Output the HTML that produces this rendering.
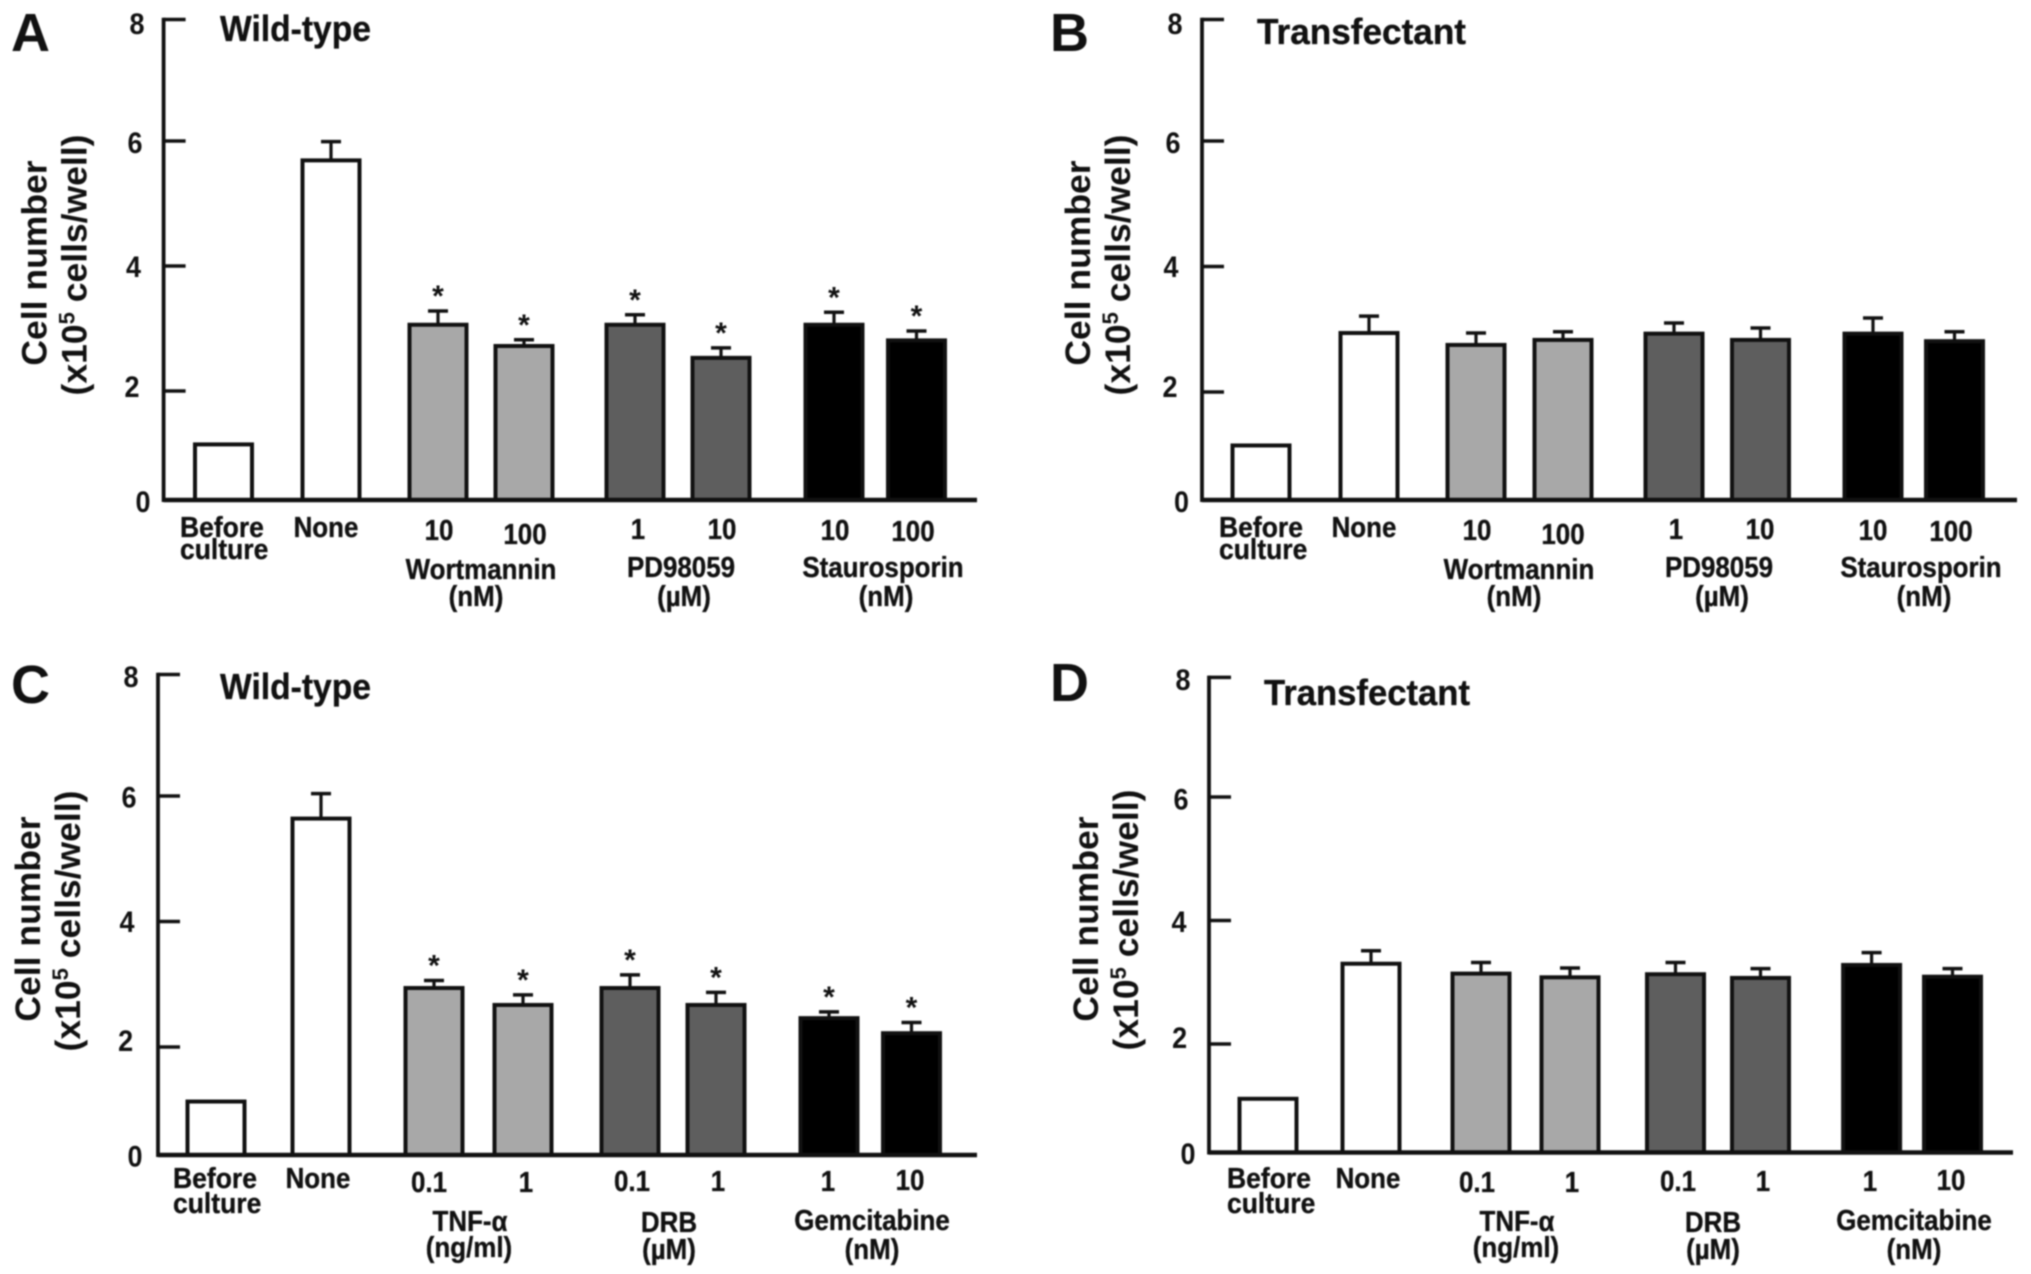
<!DOCTYPE html>
<html lang="en">
<head>
<meta charset="utf-8">
<title>Cell number by treatment: wild-type and transfectant</title>
<style>
  html, body { margin: 0; padding: 0; background: #fff; }
  svg { display: block; filter: blur(0.7px); }
  text { font-family: "Liberation Sans", Arial, sans-serif; font-weight: bold; fill: #111; }
  .lb { font-size: 28.5px; text-anchor: middle; transform: scaleX(.91); transform-box: fill-box; transform-origin: center; stroke: #111; stroke-width: .35px; }
  .ls { font-size: 28.5px; text-anchor: start; transform: scaleX(.93); transform-box: fill-box; transform-origin: left; stroke: #111; stroke-width: .35px; }
  .ttl { font-size: 36px; stroke: #111; stroke-width: .35px; }
  .let { font-size: 54px; }
  .yt { font-size: 35.5px; text-anchor: middle; }
</style>
</head>
<body>
<svg id="fig" xmlns="http://www.w3.org/2000/svg" width="2031" height="1274" viewBox="0 0 2031 1274">
  <rect width="2031" height="1274" fill="#fff"/>

  <g>
    <text class="let" x="11" y="51">A</text>
    <text class="ttl" x="220" y="41" textLength="151" lengthAdjust="spacingAndGlyphs">Wild-type</text>
    <g transform="translate(-1 -1)">
      <text class="yt" transform="translate(47.5 264) rotate(-90)">Cell number</text>
      <text class="yt" transform="translate(87.5 266) rotate(-90)">(x10<tspan font-size="22" dy="-12">5</tspan><tspan dy="12"> cells/well)</tspan></text>
      <text class="ls" x="181" y="538">Before</text>
      <text class="ls" x="181" y="560">culture</text>
      <text class="lb" x="327" y="538">None</text>
      <text class="lb" x="440" y="541">10</text>
      <text class="lb" x="526" y="545">100</text>
      <text class="lb" x="639" y="540">1</text>
      <text class="lb" x="723" y="540">10</text>
      <text class="lb" x="836" y="541">10</text>
      <text class="lb" x="914" y="542">100</text>
      <text class="lb" x="482" y="580">Wortmannin</text>
      <text class="lb" x="477" y="607">(nM)</text>
      <text class="lb" x="682" y="578">PD98059</text>
      <text class="lb" x="685" y="607">(µM)</text>
      <text class="lb" x="884" y="578">Staurosporin</text>
      <text class="lb" x="887" y="607">(nM)</text>
    </g>
  </g>

  <g>
    <text class="let" x="1050" y="51">B</text>
    <text class="ttl" x="1257" y="44" textLength="209" lengthAdjust="spacingAndGlyphs">Transfectant</text>
    <g transform="translate(-1 -1)">
      <text class="yt" transform="translate(1091 264) rotate(-90)">Cell number</text>
      <text class="yt" transform="translate(1131 266) rotate(-90)">(x10<tspan font-size="22" dy="-12">5</tspan><tspan dy="12"> cells/well)</tspan></text>
      <text class="ls" x="1220" y="538">Before</text>
      <text class="ls" x="1220" y="560">culture</text>
      <text class="lb" x="1365" y="538">None</text>
      <text class="lb" x="1478" y="541">10</text>
      <text class="lb" x="1564" y="545">100</text>
      <text class="lb" x="1677" y="540">1</text>
      <text class="lb" x="1761" y="540">10</text>
      <text class="lb" x="1874" y="541">10</text>
      <text class="lb" x="1952" y="542">100</text>
      <text class="lb" x="1520" y="580">Wortmannin</text>
      <text class="lb" x="1515" y="607">(nM)</text>
      <text class="lb" x="1720" y="578">PD98059</text>
      <text class="lb" x="1723" y="607">(µM)</text>
      <text class="lb" x="1922" y="578">Staurosporin</text>
      <text class="lb" x="1925" y="607">(nM)</text>
    </g>
  </g>

  <g>
    <text class="let" x="11" y="703">C</text>
    <text class="ttl" x="220" y="699" textLength="151" lengthAdjust="spacingAndGlyphs">Wild-type</text>
    <g transform="translate(-1 -1)">
      <text class="yt" transform="translate(41 920) rotate(-90)">Cell number</text>
      <text class="yt" transform="translate(81 922) rotate(-90)">(x10<tspan font-size="22" dy="-12">5</tspan><tspan dy="12"> cells/well)</tspan></text>
      <text class="ls" x="174" y="1189">Before</text>
      <text class="ls" x="174" y="1214">culture</text>
      <text class="lb" x="319" y="1189">None</text>
      <text class="lb" x="430" y="1193">0.1</text>
      <text class="lb" x="527" y="1193">1</text>
      <text class="lb" x="633" y="1192">0.1</text>
      <text class="lb" x="719" y="1192">1</text>
      <text class="lb" x="829" y="1192">1</text>
      <text class="lb" x="911" y="1191">10</text>
      <text class="lb" x="471" y="1232">TNF-α</text>
      <text class="lb" x="470" y="1258">(ng/ml)</text>
      <text class="lb" x="670" y="1233">DRB</text>
      <text class="lb" x="670" y="1260">(µM)</text>
      <text class="lb" x="873" y="1231">Gemcitabine</text>
      <text class="lb" x="873" y="1260">(nM)</text>
    </g>
  </g>

  <g>
    <text class="let" x="1050" y="701">D</text>
    <text class="ttl" x="1264" y="705" textLength="206" lengthAdjust="spacingAndGlyphs">Transfectant</text>
    <g transform="translate(-1 -1)">
      <text class="yt" transform="translate(1099 920) rotate(-90)">Cell number</text>
      <text class="yt" transform="translate(1139 921) rotate(-90)">(x10<tspan font-size="22" dy="-12">5</tspan><tspan dy="12"> cells/well)</tspan></text>
      <text class="ls" x="1228" y="1189">Before</text>
      <text class="ls" x="1228" y="1214">culture</text>
      <text class="lb" x="1369" y="1189">None</text>
      <text class="lb" x="1478" y="1193">0.1</text>
      <text class="lb" x="1573" y="1193">1</text>
      <text class="lb" x="1679" y="1192">0.1</text>
      <text class="lb" x="1764" y="1192">1</text>
      <text class="lb" x="1871" y="1192">1</text>
      <text class="lb" x="1952" y="1191">10</text>
      <text class="lb" x="1518" y="1232">TNF-α</text>
      <text class="lb" x="1517" y="1258">(ng/ml)</text>
      <text class="lb" x="1714" y="1233">DRB</text>
      <text class="lb" x="1714" y="1260">(µM)</text>
      <text class="lb" x="1915" y="1231">Gemcitabine</text>
      <text class="lb" x="1915" y="1260">(nM)</text>
    </g>
  </g>
</svg>

<script>
// ---- chart data ----
const tickValues = [0, 2, 4, 6, 8];
const tickLabels = ['0', '2', '4', '6', '8'];

const categoriesTop = ['before-culture', 'none', 'wortmannin-10', 'wortmannin-100', 'pd98059-1', 'pd98059-10', 'staurosporin-10', 'staurosporin-100'];
const categoriesBottom = ['before-culture', 'none', 'tnf-0-1', 'tnf-1', 'drb-0-1', 'drb-1', 'gemcitabine-1', 'gemcitabine-10'];

const panelAValues = [1.02, 5.69, 3.06, 2.72, 3.06, 2.53, 3.06, 2.81];
const panelAErrors = [0, 0.30, 0.22, 0.10, 0.16, 0.16, 0.20, 0.15];
const panelASignificant = [0, 0, 1, 1, 1, 1, 1, 1];

const panelBValues = [1.01, 2.94, 2.75, 2.83, 2.93, 2.83, 2.93, 2.81];
const panelBErrors = [0, 0.27, 0.19, 0.13, 0.17, 0.19, 0.25, 0.15];
const panelBSignificant = [0, 0, 0, 0, 0, 0, 0, 0];

const panelCValues = [0.99, 5.64, 2.94, 2.67, 2.94, 2.67, 2.46, 2.22];
const panelCErrors = [0, 0.40, 0.12, 0.16, 0.21, 0.20, 0.10, 0.17];
const panelCSignificant = [0, 0, 1, 1, 1, 1, 1, 1];

const panelDValues = [0.99, 3.30, 3.14, 3.08, 3.13, 3.07, 3.28, 3.09];
const panelDErrors = [0, 0.21, 0.18, 0.15, 0.19, 0.15, 0.20, 0.13];
const panelDSignificant = [0, 0, 0, 0, 0, 0, 0, 0];

const barFills = ['#ffffff', '#ffffff', '#a8a8a8', '#a8a8a8', '#5e5e5e', '#5e5e5e', '#000000', '#000000'];

// ---- panel geometry (layout only, never data) ----
const layoutA = { id: 'a', axisX: 163.6, axisEnd: 977, y8: 19.5, y6: 141, y2: 391, y0: 500, first: 193,
  slots: [0, 107.5, 214.5, 300.5, 411.5, 497.5, 610.5, 693],
  tickTextX: [143, 132, 133.5, 135, 137], tickTextY: [512, 397, 277, 153, 34] };
const layoutB = { id: 'b', axisX: 1202, axisEnd: 2017, y8: 19.5, y6: 141, y2: 392, y0: 500, first: 1230.5,
  slots: [0, 108, 215, 302, 413, 499.5, 612, 693.5],
  tickTextX: [1181.5, 1170, 1171, 1173, 1175], tickTextY: [512, 397, 277, 153, 34] };
const layoutC = { id: 'c', axisX: 158, axisEnd: 977, y8: 674.5, y6: 796, y2: 1047, y0: 1155, first: 185.5,
  slots: [0, 105, 218, 307, 414, 500, 613, 695.5],
  tickTextX: [135, 125.6, 127, 129, 131], tickTextY: [1166.6, 1051, 932, 807.4, 687] };
const layoutD = { id: 'd', axisX: 1209, axisEnd: 2013, y8: 677.4, y6: 797, y2: 1044, y0: 1152.5, first: 1237.5,
  slots: [0, 103, 213, 302, 407.5, 492.5, 603.6, 684.5],
  tickTextX: [1188, 1179.6, 1179, 1181, 1183], tickTextY: [1163.8, 1048, 932, 809.5, 690] };

const BAR_WIDTH = 61;
const BAR_STROKE = 4;
const CAP_WIDTH = 20;
const TICK_LENGTH = 22;
const STAR_GAP = 22;
const INK = '#111';
const SVG_NS = 'http://www.w3.org/2000/svg';
const fig = document.getElementById('fig');

// Axis functions. The printed axis spacing changes below 2 and above 6.
function makeYScale(l) {
  const top = (l.y6 - l.y8) / 2;
  const middle = (l.y2 - l.y6) / 4;
  const lower = (l.y0 - l.y2) / 2;
  return function (v) {
    if (v >= 6) return l.y6 - (v - 6) * top;
    if (v >= 2) return l.y2 - (v - 2) * middle;
    return l.y0 - v * lower;
  };
}
function makeXScale(l) {
  return function (i) {
    return l.first + l.slots[i];
  };
}

function addLine(parent, name, x1, y1, x2, y2, width) {
  const el = document.createElementNS(SVG_NS, 'line');
  
  
  el.setAttribute('x1', x1);
  el.setAttribute('y1', y1);
  el.setAttribute('x2', x2);
  el.setAttribute('y2', y2);
  el.setAttribute('stroke', INK);
  el.setAttribute('stroke-width', width);
  parent.appendChild(el);
  return el;
}

function drawPanel(l, categories, values, errors, significant) {
  const y = makeYScale(l);
  const x = makeXScale(l);

  const group = document.createElementNS(SVG_NS, 'g');
  
  
  fig.appendChild(group);

  values.forEach(function (value, i) {
    const left = x(i);
    const top = y(value);
    const cx = left + BAR_WIDTH / 2;
    const err = errors[i];
    const errTop = y(value + err);

    if (err > 0) {
      addLine(group, 'panel-' + l.id + '-error-stem-' + categories[i], cx, top, cx, errTop, 3.2);
      addLine(group, 'panel-' + l.id + '-error-cap-' + categories[i], cx - CAP_WIDTH / 2, errTop, cx + CAP_WIDTH / 2, errTop, 3.5);
    }

    const bar = document.createElementNS(SVG_NS, 'rect');
    
    
    bar.setAttribute('x', left + BAR_STROKE / 2);
    bar.setAttribute('y', top);
    bar.setAttribute('width', BAR_WIDTH - BAR_STROKE);
    bar.setAttribute('height', y(0) - top);
    bar.setAttribute('fill', barFills[i]);
    bar.setAttribute('stroke', INK);
    bar.setAttribute('stroke-width', BAR_STROKE);
    group.appendChild(bar);

    if (significant[i]) {
      const star = document.createElementNS(SVG_NS, 'text');
      
      
      star.setAttribute('x', cx);
      star.setAttribute('y', errTop - STAR_GAP + 17);
      star.setAttribute('text-anchor', 'middle');
      star.setAttribute('font-size', '30');
      star.textContent = '*';
      group.appendChild(star);
    }
  });

  addLine(group, 'panel-' + l.id + '-y-axis', l.axisX, y(8) - 1.75, l.axisX, y(0) + 2, 3.8);
  addLine(group, 'panel-' + l.id + '-x-axis', l.axisX, y(0), l.axisEnd, y(0), 4.5);

  tickValues.forEach(function (tick, i) {
    if (tick > 0) {
      addLine(group, 'panel-' + l.id + '-y-tick-' + tick, l.axisX, y(tick), l.axisX + TICK_LENGTH, y(tick), 3.5);
    }
    const label = document.createElementNS(SVG_NS, 'text');
    
    
    label.setAttribute('x', l.tickTextX[i]);
    label.setAttribute('y', l.tickTextY[i]);
    label.setAttribute('text-anchor', 'middle');
    label.setAttribute('font-size', '30');
    label.setAttribute('textLength', '15');
    label.setAttribute('lengthAdjust', 'spacingAndGlyphs');
    label.textContent = tickLabels[i];
    group.appendChild(label);
  });
}

drawPanel(layoutA, categoriesTop, panelAValues, panelAErrors, panelASignificant);
drawPanel(layoutB, categoriesTop, panelBValues, panelBErrors, panelBSignificant);
drawPanel(layoutC, categoriesBottom, panelCValues, panelCErrors, panelCSignificant);
drawPanel(layoutD, categoriesBottom, panelDValues, panelDErrors, panelDSignificant);
</script>
</body>
</html>
